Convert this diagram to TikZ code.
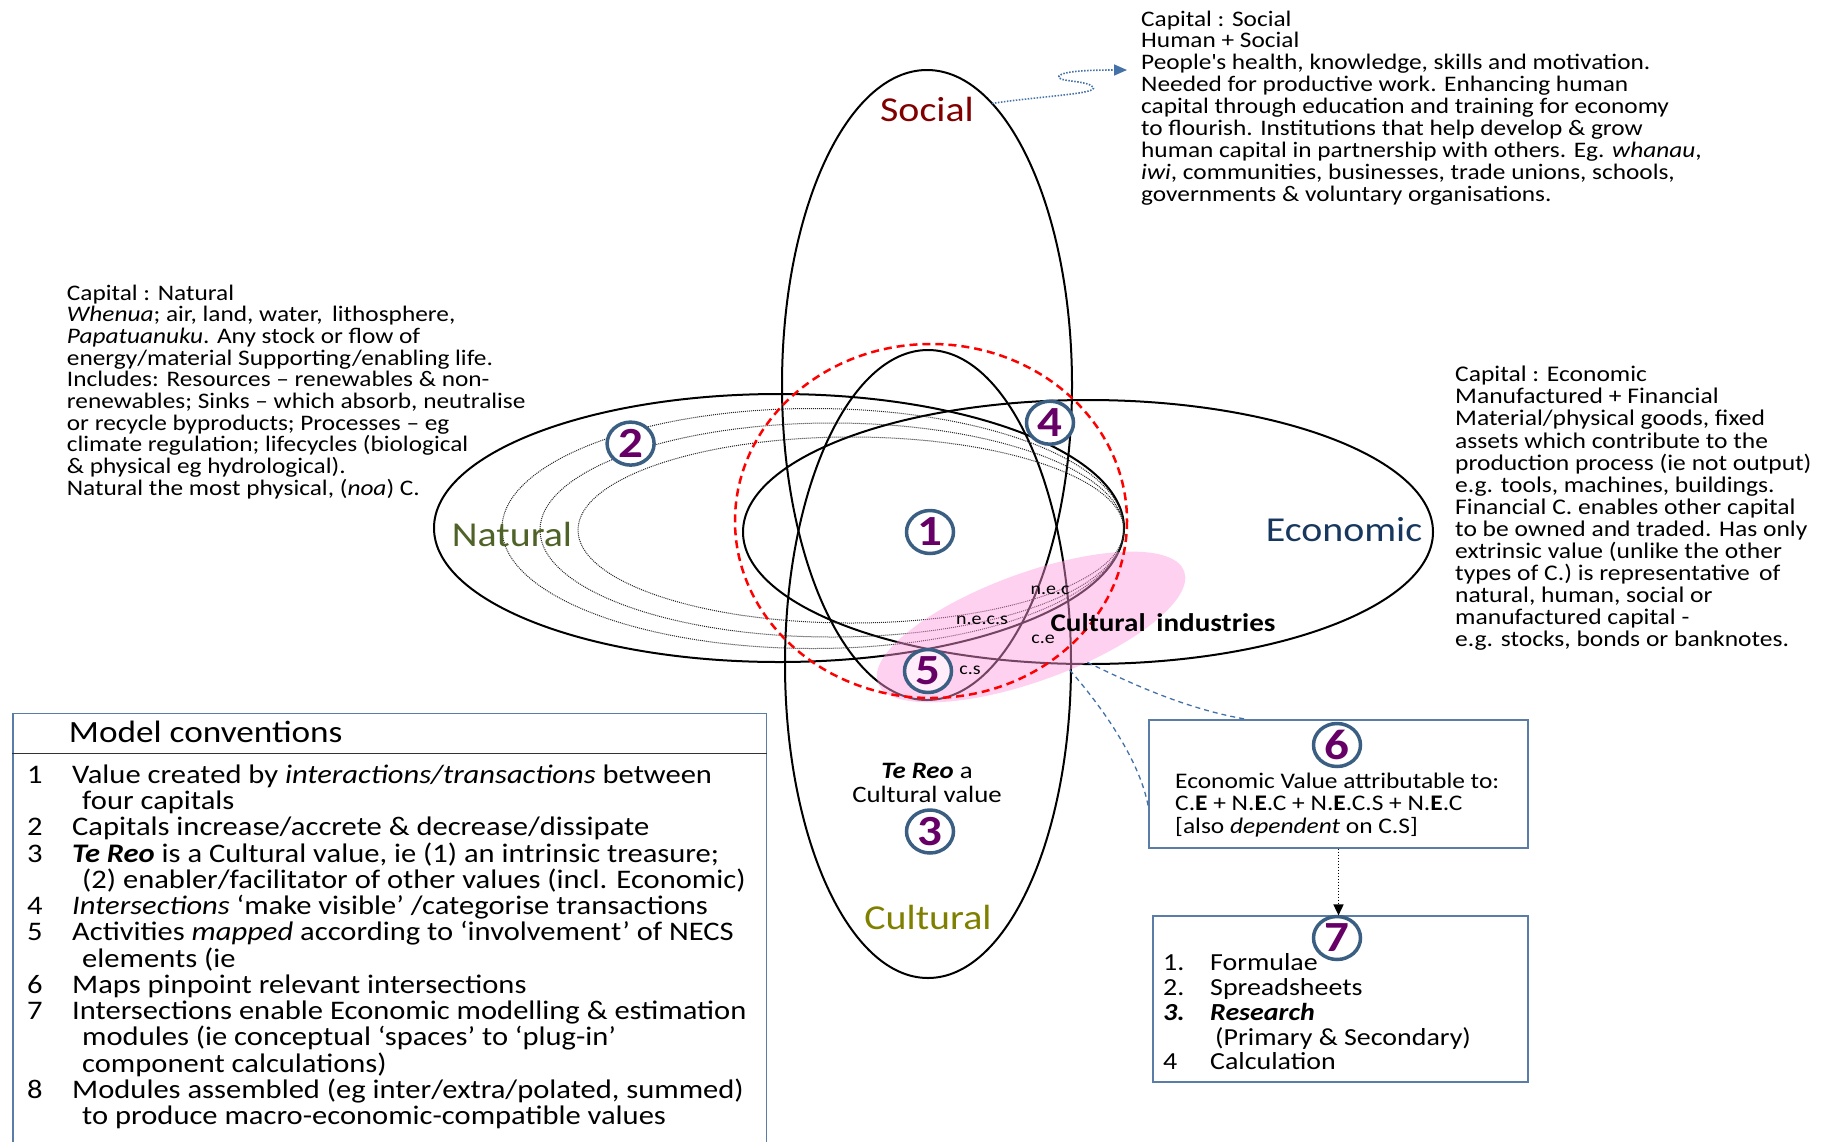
\documentclass[tikz,border=0pt]{standalone}
\usepackage{fontspec}
\setmainfont{Carlito}[FakeStretch=1.14]
\usetikzlibrary{shapes.geometric,arrows.meta,calc}
\definecolor{circb}{HTML}{3A5F83}
\definecolor{numpurple}{HTML}{660066}
\definecolor{socialc}{HTML}{800000}
\definecolor{naturalc}{HTML}{4F6228}
\definecolor{econc}{HTML}{17375E}
\definecolor{culturalc}{HTML}{808000}
\definecolor{boxc}{HTML}{5A7DA8}
\definecolor{arrc}{HTML}{4472A8}
\definecolor{pinkc}{HTML}{FF99DD}
\lineskiplimit=-100pt
\lineskip=0pt
\begin{document}
\begin{tikzpicture}[x=1pt,y=-1pt,
  capell/.style={ellipse, draw=black, line width=2pt, inner sep=0pt, outer sep=0pt},
  dotell/.style={draw=black!85, line width=1pt, dash pattern=on 1pt off 1pt},
  numc/.style={ellipse, draw=circb, line width=3.5pt, fill=white, text=numpurple, inner sep=0pt,
    minimum width=47pt, minimum height=43pt, font=\fontsize{43}{43}\selectfont\bfseries},
  txt/.style={inner sep=0pt, align=left, anchor=base west, font=\fontsize{22.2}{21.9}\selectfont},
  boxst/.style={draw=boxc, line width=1.2pt, inner sep=0pt},
  lab/.style={inner sep=0pt, font=\fontsize{35}{35}\selectfont},
  small/.style={inner sep=0pt, font=\fontsize{17.5}{17.5}\selectfont},
  dashc/.style={draw=arrc, line width=1.3pt, dash pattern=on 5pt off 4pt}
]
\useasboundingbox (0,0) rectangle (1821,1141);

% capital ellipses
\node[capell, minimum width=690pt, minimum height=268pt] (natural) at (779,528) {};
\node[capell, minimum width=690pt, minimum height=264pt] (economic) at (1088,532) {};
\node[capell, minimum width=290pt, minimum height=630pt] (social) at (927,385) {};
\node[capell, minimum width=286pt, minimum height=628pt] (cultural) at (928,664) {};

% nested dotted ellipses (natural capital)
\draw[dotell] (813,528.5) ellipse [x radius=311, y radius=120];
\draw[dotell] (832,530) ellipse [x radius=292, y radius=107];
\draw[dotell] (851,530) ellipse [x radius=273, y radius=93];

% cultural industries
\node[ellipse, fill=pinkc, fill opacity=0.45, rotate=20, minimum width=326pt, minimum height=108pt, inner sep=0pt] (pink) at (1031,627) {};

% red dashed boundary
\draw[red, line width=2.5pt, dash pattern=on 8pt off 5pt] (931,521) ellipse [x radius=196, y radius=177];

% capital labels
\node[lab, text=socialc] (lsocial) at (927,109) {Social};
\node[lab, text=naturalc] (lnatural) at (512,534) {Natural};
\node[lab, text=econc] (leconomic) at (1344,529.5) {Economic};
\node[lab, text=culturalc] (lcultural) at (928,917.5) {Cultural};

% intersection labels
\node[small] (nec) at (1050,590) {n.e.c};
\node[small] (necs) at (982,620) {n.e.c.s};
\node[small] (ce) at (1043,639) {c.e};
\node[small] (cs) at (970,670) {c.s};
\node[inner sep=0pt, font=\fontsize{25.5}{25.5}\selectfont\bfseries] (ci) at (1163,623) {Cultural\, industries};

\node[inner sep=0pt, align=center, font=\fontsize{23.5}{24.5}\selectfont] (tereo) at (927,783) {\textbf{\textit{Te Reo}} a\\Cultural value};

% numbered circles
\node[numc] (n1) at (930,532) {1};
\node[numc] (n2) at (630.6,443.6) {2};
\node[numc] (n3) at (930,831.5) {3};
\node[numc] (n4) at (1050,422.7) {4};
\node[numc, fill=pinkc!18!white] (n5) at (928,671) {5};

% description texts (anchored at the baseline of their last line)
\node[txt] (socialtext) at (1141,201.2) {Capital : Social\\
Human + Social\\
People\textquotesingle s health, knowledge, skills and motivation.\\
Needed for productive work. Enhancing human\\
capital through education and training for economy\\
to flourish. Institutions that help develop \& grow\\
human capital in partnership with others. Eg. \textit{whanau},\\
\textit{iwi}, communities, businesses, trade unions, schools,\\
governments \& voluntary organisations.};

\node[txt, font=\fontsize{22.2}{21.7}\selectfont] (naturaltext) at (66.7,495.3) {Capital : Natural\\
\textit{Whenua}; air, land, water,\, lithosphere,\\
\textit{Papatuanuku}. Any stock or flow of\\
energy/material Supporting/enabling life.\\
Includes: Resources – renewables \& non-\\
renewables; Sinks – which absorb, neutralise\\
or recycle byproducts; Processes – eg\\
climate regulation; lifecycles (biological\\
\& physical eg hydrological).\\
Natural the most physical, (\textit{noa}) C.};

\node[txt, font=\fontsize{22.4}{22.1}\selectfont] (econtext) at (1455,646.9) {Capital : Economic\\
Manufactured + Financial\\
Material/physical goods, fixed\\
assets which contribute to the\\
production process (ie not output)\\
e.g. tools, machines, buildings.\\
Financial C. enables other capital\\
to be owned and traded. Has only\\
extrinsic value (unlike the other\\
types of C.) is representative\, of\\
natural, human, social or\\
manufactured capital -\\
e.g. stocks, bonds or banknotes.};

% model conventions
\node[draw=boxc, line width=1.2pt, inner sep=0pt, anchor=north west, minimum width=753.6pt, minimum height=470pt] (mc) at (12.4,713) {};
\draw[black!80, line width=1.2pt] (mc.north west) ++(0,40.3) coordinate (hl) -- (hl -| mc.east);
\node[inner sep=0pt, anchor=base west, font=\fontsize{30.9}{30.9}\selectfont] (mchead) at (68.7,742.7) {Model conventions};
\node[txt, font=\fontsize{26.8}{26.25}\selectfont] (mclist) at (27,1124.5) {%
\makebox[45pt][l]{1}Value created by \textit{interactions/transactions} between\\
\hspace*{55pt}four capitals\\
\makebox[45pt][l]{2}Capitals increase/accrete \& decrease/dissipate\\
\makebox[45pt][l]{3}\textbf{\textit{Te Reo}} is a Cultural value, ie (1) an intrinsic treasure;\\
\hspace*{55pt}(2) enabler/facilitator of other values (incl. Economic)\\
\makebox[45pt][l]{4}\textit{Intersections} `make visible' /categorise transactions\\
\makebox[45pt][l]{5}Activities \textit{mapped} according to `involvement' of NECS\\
\hspace*{55pt}elements (ie\\
\makebox[45pt][l]{6}Maps pinpoint relevant intersections\\
\makebox[45pt][l]{7}Intersections enable Economic modelling \& estimation\\
\hspace*{55pt}modules (ie conceptual `spaces' to `plug-in'\\
\hspace*{55pt}component calculations)\\
\makebox[45pt][l]{8}Modules assembled (eg inter/extra/polated, summed)\\
\hspace*{55pt}to produce macro-economic-compatible values};

% box 6
\node[boxst, minimum width=379pt, minimum height=128pt] (box6) at (1338.5,784) {};
\node[numc] (n6) at (1337,745) {6};
\node[txt, font=\fontsize{22.3}{22.5}\selectfont] (box6text) at (1175,833) {Economic Value attributable to:\\
C.\textbf{E} + N.\textbf{E}.C + N.\textbf{E}.C.S + N.\textbf{E}.C\\
{[}also \textit{dependent} on C.S{]}};

% box 7
\node[boxst, minimum width=375pt, minimum height=166pt] (box7) at (1340.5,999) {};
\node[txt, font=\fontsize{24.5}{24.8}\selectfont] (box7text) at (1163,1069.9) {%
\makebox[47pt][l]{1.}Formulae\\
\makebox[47pt][l]{2.}Spreadsheets\\
\textbf{\textit{\makebox[47pt][l]{3.}Research}}\\
\hspace*{52pt}(Primary \& Secondary)\\
\makebox[47pt][l]{4}Calculation};
\node[numc] (n7) at (1337,938) {7};

% connectors
\coordinate (sarr) at (1127,70);
\draw[arrc, line width=1.6pt, dash pattern=on 1.5pt off 1.5pt, -{Triangle[length=13pt,width=11pt]}]
  (social.77) .. controls (1040,96) and (1100,94) .. (1093,87)
  .. controls (1087,80) and (1055,82) .. (1059,76)
  .. controls (1063,71) and (1090,70) .. (sarr);

\draw[dashc] (pink.-52) .. controls ($(pink.-52)+(45,22)$) and ($(box6.north west)!0.26!(box6.north east)+(-60,-10)$) .. ($(box6.north west)!0.26!(box6.north east)$);
\draw[dashc] (pink.-68) .. controls ($(pink.-68)+(35,40)$) and ($(box6.north west)!0.68!(box6.south west)+(-8,-45)$) .. ($(box6.north west)!0.68!(box6.south west)$);

\draw[black, line width=1.6pt, dash pattern=on 1.5pt off 1.5pt, -{Triangle[length=11pt,width=10pt]}] (box6.south) -- (box6.south |- box7.north);
\end{tikzpicture}
\end{document}
